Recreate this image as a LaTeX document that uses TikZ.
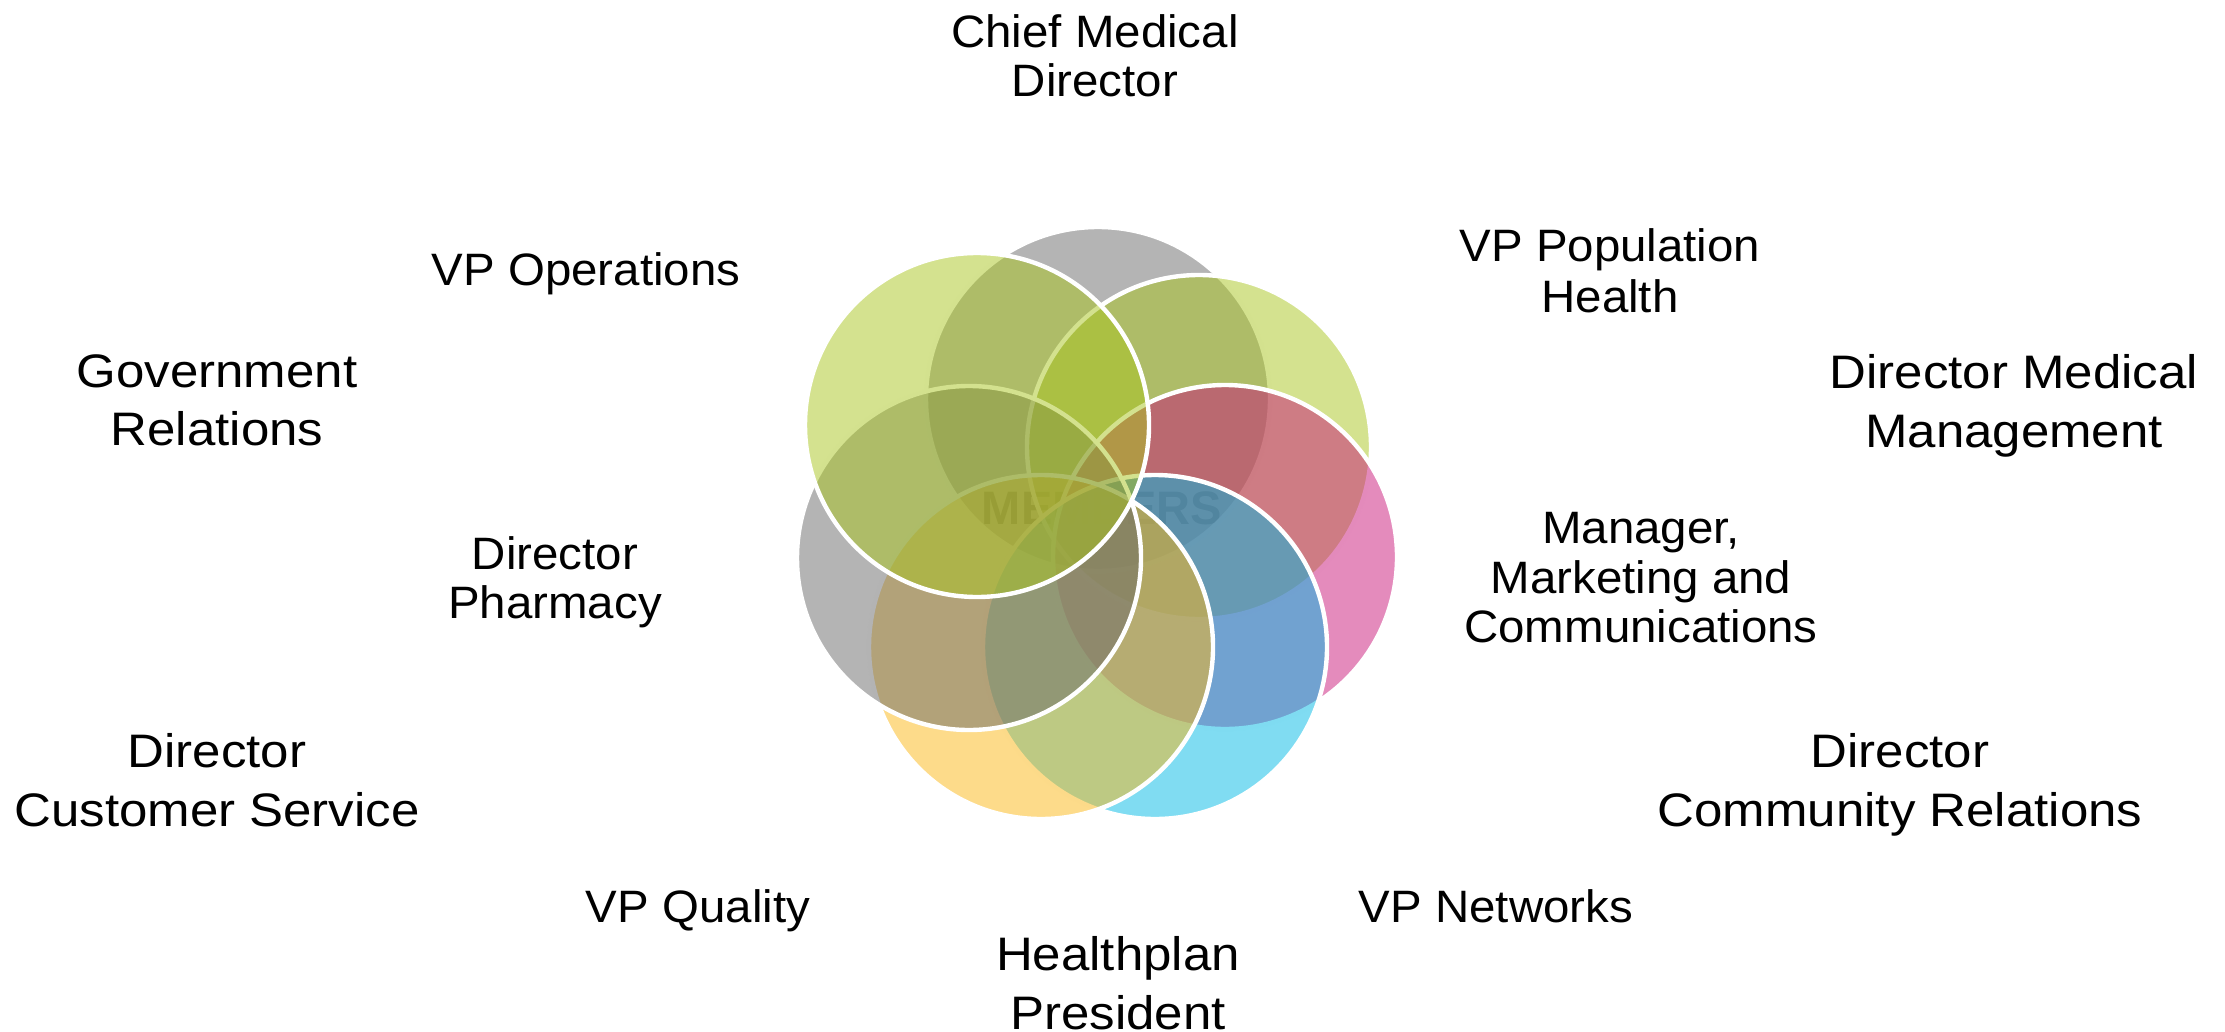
\documentclass[tikz,border=0pt]{standalone}
\usepackage{fontspec}
\setmainfont{Liberation Sans}
\newfontfamily\innerfont{Liberation Sans}[FakeStretch=1.045]
\newfontfamily\outerfont{Liberation Sans}[FakeStretch=1.085]
\definecolor{ringgray}{RGB}{105,105,105}
\definecolor{ringgreen}{RGB}{169,197,31}
\definecolor{ringpink}{RGB}{201,23,121}
\definecolor{ringcyan}{RGB}{1,185,229}
\definecolor{ringyellow}{RGB}{251,183,21}
\definecolor{membertext}{RGB}{64,64,64}

\begin{document}
\begin{tikzpicture}[x=0.5pt, y=-0.5pt,
    ring/.style={fill=#1, fill opacity=0.5, draw=white, line width=2.2pt},
    lbl/.style={anchor=north, align=center, inner sep=0pt, font=\fontsize{22.7pt}{24.8pt}\innerfont},
    outerlbl/.style={anchor=north, align=center, inner sep=0pt, font=\fontsize{23.5pt}{29.3pt}\outerfont}]
    \useasboundingbox (0,0) rectangle (2225,1032);
    % centre text, under the rings
    \node[font=\fontsize{23.5pt}{24pt}\bfseries, text=membertext, inner sep=0pt] (members) at (1102,508) {MEMBERS};
    % rings, back to front
    \path[ring=ringgray]   (1098,399) circle [radius=86pt];
    \path[ring=ringgreen]  (1199,447) circle [radius=86pt];
    \path[ring=ringpink]   (1225,557) circle [radius=86pt];
    \path[ring=ringcyan]   (1155,647) circle [radius=86pt];
    \path[ring=ringyellow] (1041,647) circle [radius=86pt];
    \path[ring=ringgray]   (969,558) circle [radius=86pt];
    \path[ring=ringgreen]  (977,425) circle [radius=86pt];
    % labels
    \node[lbl] (chief) at (1095,14) {Chief Medical\\Director};
    \node[lbl] (vpops) at (586,252) {VP Operations};
    \node[lbl, font=\fontsize{22.7pt}{25.6pt}\innerfont] (vppop) at (1610,228) {VP Population\\Health};
    \node[lbl] (pharm) at (555,536) {Director\\Pharmacy};
    \node[lbl] (market) at (1641,512) {Manager,\\Marketing and\\Communications};
    \node[lbl] (vpqual) at (698,889) {VP Quality};
    \node[lbl] (vpnet) at (1496,889) {VP Networks};
    \node[outerlbl] (govrel) at (217,354) {Government\\Relations};
    \node[outerlbl] (medmgmt) at (2014,354) {Director Medical\\Management};
    \node[outerlbl] (custserv) at (217,733) {Director\\Customer Service};
    \node[outerlbl] (commrel) at (1900,733) {Director\\Community Relations};
    \node[outerlbl] (president) at (1118,936) {Healthplan\\President};
\end{tikzpicture}
\end{document}
